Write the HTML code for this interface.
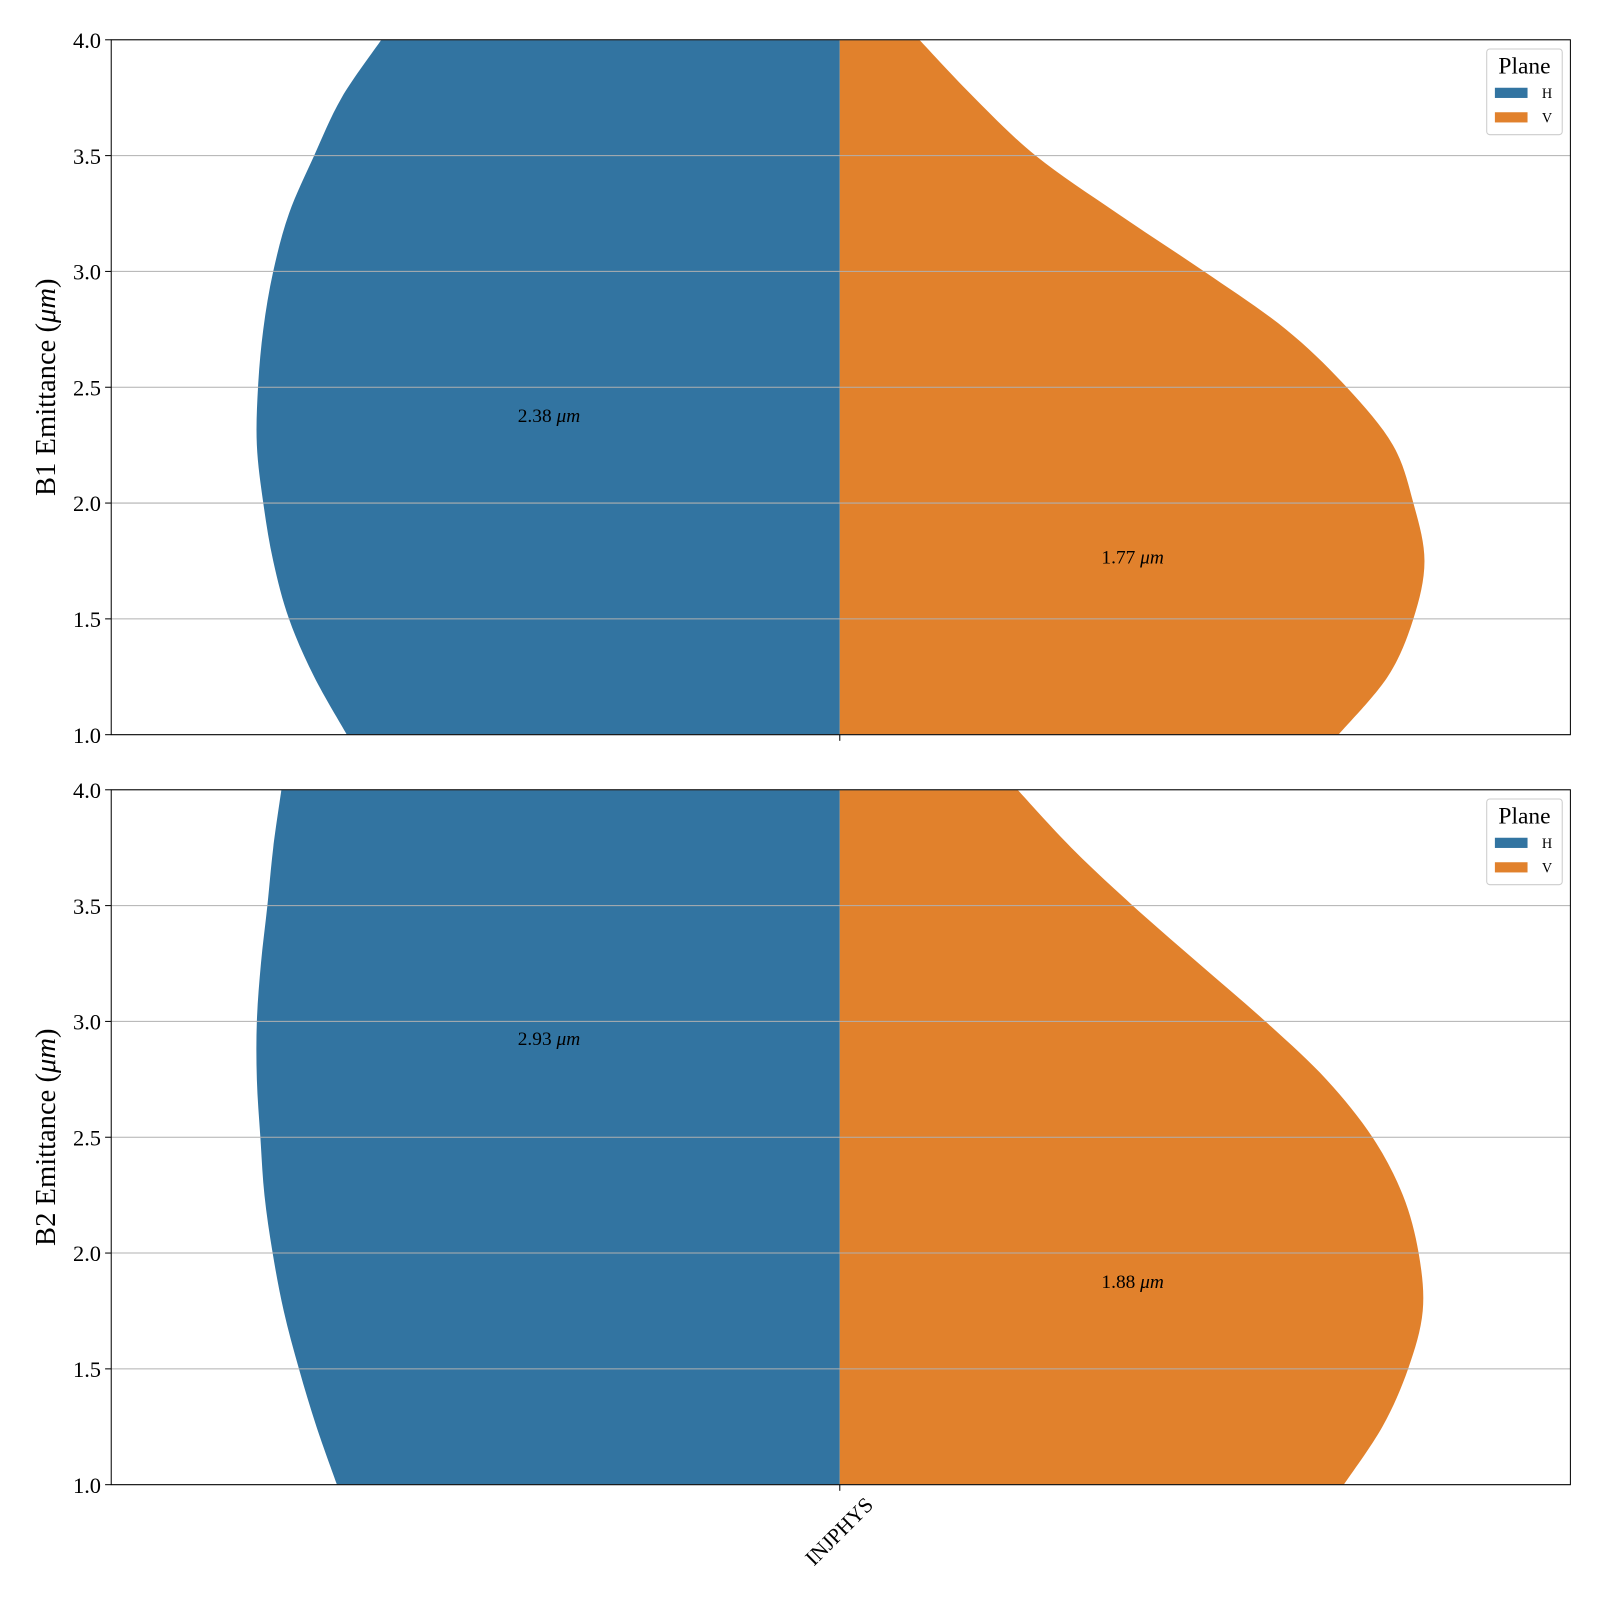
<!DOCTYPE html>
<html><head><meta charset="utf-8"><style>
body{margin:0;background:#fff}
svg text{font-family:"Liberation Serif",serif}
</style></head><body>
<svg id="c" width="1600" height="1600" xmlns="http://www.w3.org/2000/svg"><g id="root" transform="scale(1.0204)"></g></svg>
<script>
const yLevels=[4.0,3.5,3.0,2.5,2.0,1.5,1.0];
const b1H=[[4.0,0.784],[3.75,0.852],[3.5,0.899],[3.25,0.942],[3.0,0.969],[2.75,0.986],[2.5,0.995],[2.25,0.997],[2.0,0.986],[1.75,0.969],[1.5,0.942],[1.25,0.899],[1.0,0.843]];
const b1V=[[4.0,0.136],[3.75,0.230],[3.5,0.335],[3.25,0.475],[3.0,0.623],[2.75,0.763],[2.5,0.867],[2.25,0.946],[2.0,0.981],[1.75,1.0],[1.5,0.981],[1.25,0.937],[1.0,0.853]];
const b2H=[[4.0,0.955],[3.75,0.969],[3.5,0.979],[3.25,0.990],[3.0,0.997],[2.75,0.997],[2.5,0.991],[2.25,0.984],[2.0,0.970],[1.75,0.951],[1.5,0.925],[1.25,0.895],[1.0,0.860]];
const b2V=[[4.0,0.304],[3.75,0.396],[3.5,0.501],[3.25,0.614],[3.0,0.728],[2.75,0.832],[2.5,0.911],[2.25,0.963],[2.0,0.990],[1.75,0.997],[1.5,0.972],[1.25,0.928],[1.0,0.862]];
const medians=[[2.38,1.77],[2.93,1.88]];
const panelLabels=["B1 Emittance (","B2 Emittance ("];
const category="INJPHYS";
const NS="http://www.w3.org/2000/svg";
const svg=document.getElementById('root');
function el(t,a,p){const e=document.createElementNS(NS,t);for(const k in a)e.setAttribute(k,a[k]);(p||svg).appendChild(e);return e;}
const X0=109,X1=1539,CX=823,HW=573;
const panels=[{top:39,bot:720,H:b1H,V:b1V},{top:774,bot:1455,H:b2H,V:b2V}];
function smoothPath(pts){let d='';for(let i=0;i<pts.length-1;i++){const p0=pts[Math.max(0,i-1)],p1=pts[i],p2=pts[i+1],p3=pts[Math.min(pts.length-1,i+2)];
const c1=[p1[0]+(p2[0]-p0[0])/6,p1[1]+(p2[1]-p0[1])/6],c2=[p2[0]-(p3[0]-p1[0])/6,p2[1]-(p3[1]-p1[1])/6];
d+=` C${c1[0]},${c1[1]} ${c2[0]},${c2[1]} ${p2[0]},${p2[1]}`;}return d;}
panels.forEach((p,i)=>{
  const y=v=>p.bot-(v-1)/(4-1)*(p.bot-p.top);
  const g=el('g',{});
  
  
  const ptsH=p.H.map(d=>[CX-d[1]*HW,y(d[0])]);
  let dH=`M${CX},${ptsH[0][1]} L${ptsH[0][0]},${ptsH[0][1]}`+smoothPath(ptsH)+` L${CX},${ptsH[ptsH.length-1][1]} Z`;
  const vh=el('path',{d:dH,fill:'#3274a1'},g);
  
  
  const ptsV=p.V.map(d=>[CX+d[1]*HW,y(d[0])]);
  let dV=`M${CX},${ptsV[0][1]} L${ptsV[0][0]},${ptsV[0][1]}`+smoothPath(ptsV)+` L${CX},${ptsV[ptsV.length-1][1]} Z`;
  const vv=el('path',{d:dV,fill:'#e1812c'},g);
  
  
  yLevels.forEach(v=>{
    el('line',{x1:X0,x2:X1,y1:y(v),y2:y(v),stroke:'#b0b0b0','stroke-width':1},g);
    el('line',{x1:X0-6,x2:X0,y1:y(v),y2:y(v),stroke:'#000','stroke-width':1},g);
    const t=el('text',{x:X0-10,y:y(v)+8,'text-anchor':'end','font-size':22},g);t.textContent=v.toFixed(1);
    
    
  });
  el('rect',{x:X0,y:p.top,width:X1-X0,height:p.bot-p.top,fill:'none',stroke:'#000','stroke-width':1},g);
  el('line',{x1:CX,x2:CX,y1:p.bot,y2:p.bot+6,stroke:'#000'},g);
  [[medians[i][0],538],[medians[i][1],1110]].forEach(([v,x])=>{
    const t=el('text',{x:x,y:y(v)+7,'text-anchor':'middle','font-size':19},g);
    t.innerHTML=v.toFixed(2)+' <tspan font-style="italic">μm</tspan>';
    
    
  });
  const yl=el('text',{transform:`translate(54,${(p.top+p.bot)/2}) rotate(-90)`,'text-anchor':'middle','font-size':28},g);
  yl.innerHTML=panelLabels[i]+'<tspan font-style="italic">μm</tspan>)';
  
  
  const lg=el('g',{transform:`translate(1457,${p.top+9})`},g);
  
  
  el('rect',{x:0,y:0,width:74,height:84,rx:3,fill:'#fff',stroke:'#ccc'},lg);
  const lt=el('text',{x:37,y:24,'text-anchor':'middle','font-size':23},lg);lt.textContent='Plane';
  el('rect',{x:8,y:38,width:32,height:10,fill:'#3274a1'},lg);
  el('rect',{x:8,y:62,width:32,height:10,fill:'#e1812c'},lg);
  const a=el('text',{x:54,y:48,'font-size':14},lg);a.textContent='H';
  const b=el('text',{x:54,y:72,'font-size':14},lg);b.textContent='V';
});
const xl=el('text',{transform:'translate(857,1476) rotate(-45)','text-anchor':'end','font-size':21});
xl.textContent=category;


</script>
</body></html>
